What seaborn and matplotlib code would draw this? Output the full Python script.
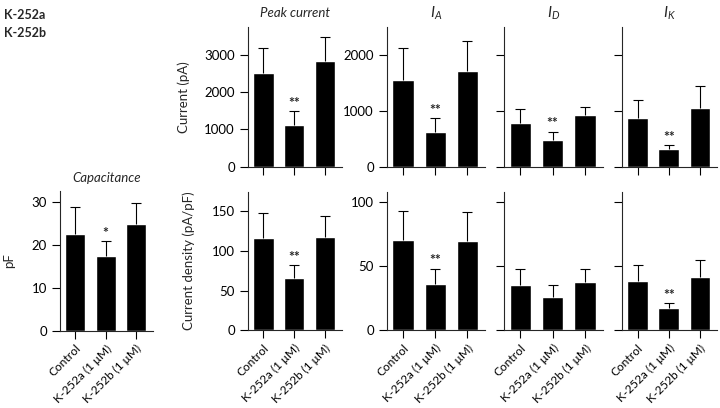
import numpy as np
import pandas as pd
import seaborn as sns
import matplotlib
matplotlib.use('Agg')
import matplotlib.pyplot as plt

# groups shared by all panels
groups = ['Control', 'K-252a (1 \u03bcM)', 'K-252b (1 \u03bcM)']

# mean values and upper error (SEM)
cap_mean = [22.6, 17.4, 24.8]
cap_err = [6.1, 3.4, 4.9]
peak_mean = [2527, 1121, 2841]
peak_err = [656, 384, 654]
ia_mean = [1550, 631, 1717]
ia_err = [571, 234, 535]
id_mean = [787, 480, 931]
id_err = [253, 151, 144]
ik_mean = [865, 324, 1057]
ik_err = [324, 66, 384]
dens_mean = [116, 65.4, 117]
dens_err = [31, 16.2, 27]
ia_dens_mean = [70.3, 35.9, 70.0]
ia_dens_err = [22.7, 12.3, 22]
id_dens_mean = [35.4, 26.0, 37.5]
id_dens_err = [12.2, 9.4, 10.5]
ik_dens_mean = [38.6, 17.3, 41.5]
ik_dens_err = [12.5, 4.1, 13.5]

stars_one = ['', '*', '']
stars_two = ['', '**', '']
stars_none = ['', '', '']


def main():
    sns.set_style('ticks')
    plt.rcParams['font.family'] = ['Lato', 'DejaVu Sans']
    plt.rcParams['axes.linewidth'] = 0.8
    plt.rcParams['mathtext.fontset'] = 'custom'
    plt.rcParams['mathtext.it'] = 'Lato:italic'
    plt.rcParams['mathtext.rm'] = 'Lato'

    fig = plt.figure(figsize=(7.2, 4.08), dpi=100)

    top_b, top_h = 0.5914, 0.343
    bot_b, bot_h = 0.19, 0.340
    cols = {'peak': (0.3444, 0.1306), 'ia': (0.5375, 0.136),
            'id': (0.700, 0.1375), 'ik': (0.8639, 0.132)}

    # key, rect, mean, err, stars, ytop, yticks, ytick labels, xtick labels, title, ylabel, ylabel x
    panels = [
        ('cap', (0.0833, 0.1887, 0.129, 0.343), cap_mean, cap_err, stars_one, 32.5, [0, 10, 20, 30], True, True, 'Capacitance', 'pF', -0.48),
        ('peak', (cols['peak'][0], top_b, cols['peak'][1], top_h), peak_mean, peak_err, stars_two, 3760, [0, 1000, 2000, 3000], True, False, 'Peak current', 'Current (pA)', -0.62),
        ('ia', (cols['ia'][0], top_b, cols['ia'][1], top_h), ia_mean, ia_err, stars_two, 2510, [0, 1000, 2000], True, False, r'$I_A$', None, 0),
        ('id', (cols['id'][0], top_b, cols['id'][1], top_h), id_mean, id_err, stars_two, 2510, [0, 1000, 2000], False, False, r'$I_D$', None, 0),
        ('ik', (cols['ik'][0], top_b, cols['ik'][1], top_h), ik_mean, ik_err, stars_two, 2510, [0, 1000, 2000], False, False, r'$I_K$', None, 0),
        ('dens', (cols['peak'][0], bot_b, cols['peak'][1], bot_h), dens_mean, dens_err, stars_two, 174, [0, 50, 100, 150], True, True, None, 'Current density (pA/pF)', -0.565),
        ('iad', (cols['ia'][0], bot_b, cols['ia'][1], bot_h), ia_dens_mean, ia_dens_err, stars_two, 108, [0, 50, 100], True, True, None, None, 0),
        ('idd', (cols['id'][0], bot_b, cols['id'][1], bot_h), id_dens_mean, id_dens_err, stars_none, 108, [0, 50, 100], False, True, None, None, 0),
        ('ikd', (cols['ik'][0], bot_b, cols['ik'][1], bot_h), ik_dens_mean, ik_dens_err, stars_two, 108, [0, 50, 100], False, True, None, None, 0),
    ]

    for key, rect, mean, err, stars, ytop, yticks, ylab, xlab, title, ylabel, ylx in panels:
        ax = fig.add_axes(rect)
        df = pd.DataFrame({'group': groups, 'value': mean})
        sns.barplot(ax=ax, data=df, x='group', y='value', color='black',
                    saturation=1, width=0.66, errorbar=None)
        x = np.arange(len(groups))
        eb = ax.errorbar(x, mean, yerr=[np.zeros(len(err)), err], fmt='none',
                         ecolor='black', elinewidth=0.8, capsize=3.5, capthick=0.8, zorder=5)
        eb[1][0].set_visible(False)  # lower caps sit on the bar top
        for xi, m, e, s in zip(x, mean, err, stars):
            if s:
                ax.annotate(s, (xi, m + e), xytext=(0, 1.5), textcoords='offset points',
                            ha='center', va='bottom', fontsize=10, fontweight='bold')
        ax.set_xlim(-0.5, 2.55)
        ax.set_ylim(0, ytop)
        ax.set_yticks(yticks)
        sns.despine(ax=ax)
        ax.tick_params(axis='both', direction='out', length=6, width=0.8, labelsize=9.5, colors='black')
        ax.tick_params(axis='x', pad=2.5)
        ax.set_xticks(x)
        if not ylab:
            ax.set_yticklabels([])
        if xlab:
            ax.set_xticklabels(groups, rotation=45, ha='right', rotation_mode='anchor', fontsize=8.6)
        else:
            ax.set_xticklabels([])
        ax.set_xlabel('')
        if ylabel:
            ax.set_ylabel(ylabel, fontsize=9.5)
            ax.yaxis.set_label_coords(ylx, 0.5)
        else:
            ax.set_ylabel('')
        if title:
            if title.startswith('$'):
                ax.text(0.5, 1.095, title, transform=ax.transAxes, ha='center', va='center', fontsize=11)
            else:
                ax.text(0.5, 1.095, title, transform=ax.transAxes, ha='center', va='center',
                        fontsize=9.5, fontstyle='italic')

    fig.text(0.006, 0.963, 'K-252a', fontsize=9, fontweight='bold', va='center')
    fig.text(0.006, 0.919, 'K-252b', fontsize=9, fontweight='bold', va='center')

    plt.savefig('out.png', dpi=100)


if __name__ == '__main__':
    main()
